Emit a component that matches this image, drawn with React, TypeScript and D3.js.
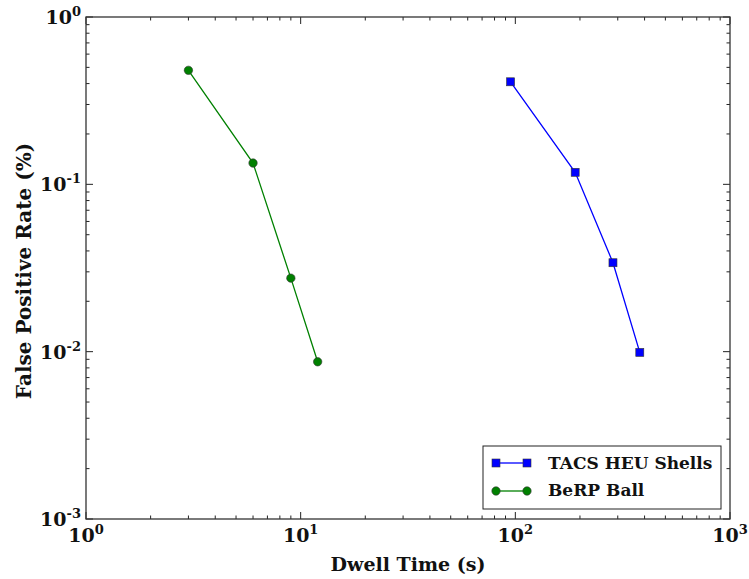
import React from "react";
import * as d3 from "d3";

// Dwell time (s) vs false positive rate (%)
const heuDwell = [95, 190, 285, 380];
const heuRate = [0.41, 0.118, 0.034, 0.0099];
const berpDwell = [3, 6, 9, 12];
const berpRate = [0.48, 0.134, 0.0275, 0.0087];

const seriesNames = ["TACS HEU Shells", "BeRP Ball"];
const xTickExps = [0, 1, 2, 3];
const yTickExps = [-3, -2, -1, 0];

const W = 749;
const H = 579;
const M = { left: 86, right: 19, top: 17, bottom: 60 };
const FONT = "'DejaVu Serif', serif";

export default function App() {
  const x = d3.scaleLog().domain([1, 1000]).range([M.left, W - M.right]);
  const y = d3.scaleLog().domain([0.001, 1]).range([H - M.bottom, M.top]);
  const x0 = M.left, x1 = W - M.right, y0 = H - M.bottom, y1 = M.top;

  const line = d3
    .line<[number, number]>()
    .x((d) => x(d[0]))
    .y((d) => y(d[1]));

  const heu = heuDwell.map((d, i) => [d, heuRate[i]] as [number, number]);
  const berp = berpDwell.map((d, i) => [d, berpRate[i]] as [number, number]);

  const majorX = xTickExps.map((e) => Math.pow(10, e));
  const majorY = yTickExps.map((e) => Math.pow(10, e));
  const minorX: number[] = [];
  for (let e = 0; e < 3; e++) for (let k = 2; k <= 9; k++) minorX.push(k * Math.pow(10, e));
  const minorY: number[] = [];
  for (let e = -3; e < 0; e++) for (let k = 2; k <= 9; k++) minorY.push(k * Math.pow(10, e));

  const tickColor = "#222";
  const majL = 7, minL = 3.5;

  const legX = 483, legY = 446, legW = 238, legH = 63;

  return (
    <svg width={W} height={H} style={{ position: "absolute", left: 0, top: 0 }} fontFamily={FONT}>
      <rect x={0} y={0} width={W} height={H} fill="#fff" />
      {/* ticks on all four sides, pointing inward */}
      <g stroke={tickColor} strokeWidth={1}>
        {majorX.map((v) => (
          <g key={"mx" + v}>
            <line x1={x(v)} x2={x(v)} y1={y0} y2={y0 - majL} />
            <line x1={x(v)} x2={x(v)} y1={y1} y2={y1 + majL} />
          </g>
        ))}
        {minorX.map((v) => (
          <g key={"nx" + v}>
            <line x1={x(v)} x2={x(v)} y1={y0} y2={y0 - minL} />
            <line x1={x(v)} x2={x(v)} y1={y1} y2={y1 + minL} />
          </g>
        ))}
        {majorY.map((v) => (
          <g key={"my" + v}>
            <line y1={y(v)} y2={y(v)} x1={x0} x2={x0 + majL} />
            <line y1={y(v)} y2={y(v)} x1={x1} x2={x1 - majL} />
          </g>
        ))}
        {minorY.map((v) => (
          <g key={"ny" + v}>
            <line y1={y(v)} y2={y(v)} x1={x0} x2={x0 + minL} />
            <line y1={y(v)} y2={y(v)} x1={x1} x2={x1 - minL} />
          </g>
        ))}
      </g>

      {/* series */}
      <path d={line(heu) || ""} fill="none" stroke="#0000ff" strokeWidth={1.3} />
      {heu.map((d, i) => (
        <rect key={"h" + i} x={x(d[0]) - 4} y={y(d[1]) - 4} width={8} height={8} fill="#0000ff" stroke="#333" strokeWidth={0.6} />
      ))}
      <path d={line(berp) || ""} fill="none" stroke="#008000" strokeWidth={1.3} />
      {berp.map((d, i) => (
        <circle key={"b" + i} cx={x(d[0])} cy={y(d[1])} r={4.2} fill="#008000" stroke="#333" strokeWidth={0.6} />
      ))}

      {/* frame */}
      <rect x={x0} y={y1} width={x1 - x0} height={y0 - y1} fill="none" stroke="#333" strokeWidth={1.3} />

      {/* tick labels */}
      <g fontWeight="bold" fill="#111">
        {xTickExps.map((e) => (
          <text key={"xl" + e} x={x(Math.pow(10, e))} y={y0 + 23} textAnchor="middle" fontSize={19}>
            10<tspan fontSize={13} dy={-8}>{e}</tspan>
          </text>
        ))}
        {yTickExps.map((e) => (
          <text key={"yl" + e} x={x0 - 5} y={y(Math.pow(10, e)) + 7} textAnchor="end" fontSize={19}>
            10<tspan fontSize={13} dy={-8}>{e}</tspan>
          </text>
        ))}
      </g>

      {/* axis titles */}
      <text x={(x0 + x1) / 2} y={H - 8} textAnchor="middle" fontWeight="bold" fontSize={19} fill="#111">
        Dwell Time (s)
      </text>
      <text
        transform={`translate(31, ${(y0 + y1) / 2 + 3}) rotate(-90)`}
        textAnchor="middle"
        fontWeight="bold"
        fontSize={20}
        fill="#111"
      >
        False Positive Rate (%)
      </text>

      {/* legend */}
      <rect x={legX} y={legY} width={legW} height={legH} fill="#fff" stroke="#222" strokeWidth={1} />
      <line x1={legX + 13} x2={legX + 44} y1={legY + 17} y2={legY + 17} stroke="#0000ff" strokeWidth={1.3} />
      <rect x={legX + 9} y={legY + 13} width={8} height={8} fill="#0000ff" stroke="#333" strokeWidth={0.6} />
      <rect x={legX + 40} y={legY + 13} width={8} height={8} fill="#0000ff" stroke="#333" strokeWidth={0.6} />
      <line x1={legX + 13} x2={legX + 44} y1={legY + 45} y2={legY + 45} stroke="#008000" strokeWidth={1.3} />
      <circle cx={legX + 13} cy={legY + 45} r={4.2} fill="#008000" stroke="#333" strokeWidth={0.6} />
      <circle cx={legX + 44} cy={legY + 45} r={4.2} fill="#008000" stroke="#333" strokeWidth={0.6} />
      <g fontWeight="bold" fontSize={17} fill="#111">
        <text x={legX + 65} y={legY + 23}>{seriesNames[0]}</text>
        <text x={legX + 65} y={legY + 50}>{seriesNames[1]}</text>
      </g>
    </svg>
  );
}
